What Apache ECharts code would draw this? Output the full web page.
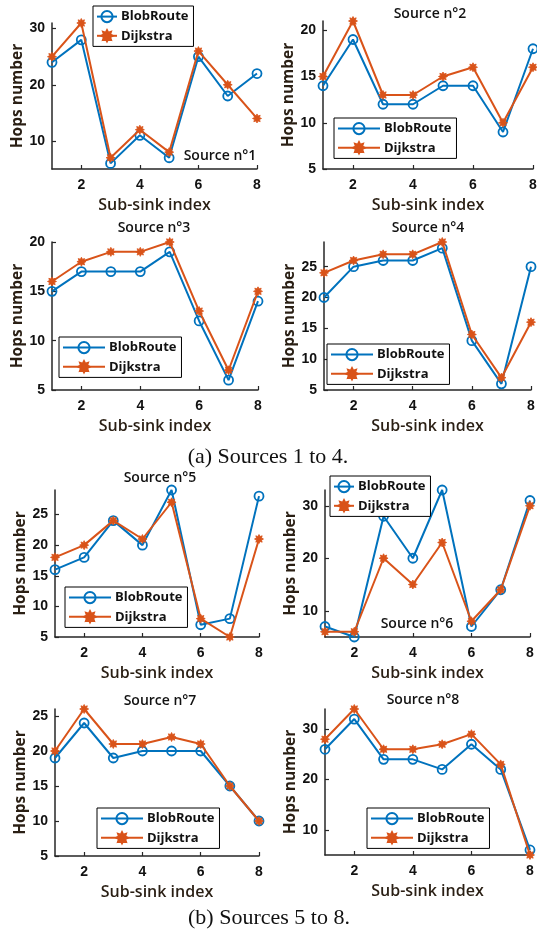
<!DOCTYPE html>
<html>
<head>
<meta charset="utf-8">
<script src="https://cdn.jsdelivr.net/npm/echarts@6/dist/echarts.min.js"></script>
<style>
html,body{margin:0;padding:0;background:#fff;}
#c{width:537px;height:935px;}
</style>
</head>
<body>
<div id="c"></div>
<script>
// ---- data ----
const subSinks = [1, 2, 3, 4, 5, 6, 7, 8];
const xTicks = [2, 4, 6, 8];
const seriesNames = ['BlobRoute', 'Dijkstra'];
const sourceTitles = ['Source n°1', 'Source n°2', 'Source n°3', 'Source n°4', 'Source n°5', 'Source n°6', 'Source n°7', 'Source n°8'];

const blob1 = [24, 28, 6, 11, 7, 25, 18, 22];
const dijk1 = [25, 31, 7, 12, 8, 26, 20, 14];
const blob2 = [14, 19, 12, 12, 14, 14, 9, 18];
const dijk2 = [15, 21, 13, 13, 15, 16, 10, 16];
const blob3 = [15, 17, 17, 17, 19, 12, 6, 14];
const dijk3 = [16, 18, 19, 19, 20, 13, 7, 15];
const blob4 = [20, 25, 26, 26, 28, 13, 6, 25];
const dijk4 = [24, 26, 27, 27, 29, 14, 7, 16];
const blob5 = [16, 18, 24, 20, 29, 7, 8, 28];
const dijk5 = [18, 20, 24, 21, 27, 8, 5, 21];
const blob6 = [7, 5, 28, 20, 33, 7, 14, 31];
const dijk6 = [6, 6, 20, 15, 23, 8, 14, 30];
const blob7 = [19, 24, 19, 20, 20, 20, 15, 10];
const dijk7 = [20, 26, 21, 21, 22, 21, 15, 10];
const blob8 = [26, 32, 24, 24, 22, 27, 22, 6];
const dijk8 = [28, 34, 26, 26, 27, 29, 23, 5];

const yTicks1 = [10, 20, 30];
const yTicks2 = [5, 10, 15, 20];
const yTicks3 = [5, 10, 15, 20];
const yTicks4 = [5, 10, 15, 20, 25];
const yTicks5 = [5, 10, 15, 20, 25];
const yTicks6 = [10, 20, 30];
const yTicks7 = [5, 10, 15, 20, 25];
const yTicks8 = [10, 20, 30];

const yMin = [5, 5, 5, 5, 5, 5, 5, 5];
const yMax = [31, 21, 20, 29, 29, 33, 26, 34];

const blobs = [blob1, blob2, blob3, blob4, blob5, blob6, blob7, blob8];
const dijks = [dijk1, dijk2, dijk3, dijk4, dijk5, dijk6, dijk7, dijk8];
const yTicksAll = [yTicks1, yTicks2, yTicks3, yTicks4, yTicks5, yTicks6, yTicks7, yTicks8];

// ---- layout / style ----
const BLUE = '#0072BD';
const ORANGE = '#D95319';
const AXIS = '#262626';
const NAMECOL = '#2a1f14';
const FONT = '"Open Sans", "Liberation Sans", sans-serif';
const TICKFONT = '"Liberation Sans", Arial, sans-serif';
const STAR = 'path://M20 10 L15.5 12.3 L17.07 17.07 L12.3 15.5 L10 20 L7.7 15.5 L2.93 17.07 L4.5 12.3 L0 10 L4.5 7.7 L2.93 2.93 L7.7 4.5 L10 0 L12.3 4.5 L17.07 2.93 L15.5 7.7 Z';

const grids = [
  {left: 52, top: 23, width: 205, height: 146},
  {left: 323, top: 21, width: 210, height: 148},
  {left: 52, top: 242, width: 206, height: 148},
  {left: 324, top: 242, width: 207, height: 148},
  {left: 55, top: 490, width: 204, height: 147},
  {left: 325, top: 490, width: 205, height: 147},
  {left: 55, top: 709, width: 204, height: 147},
  {left: 325, top: 709, width: 205, height: 146}
];
const titlePos = [[220, 156], [430, 14], [154, 228], [428, 228], [160, 478], [417, 624], [160, 701], [423, 700]];
const legendPos = [
  {left: 93, top: 6, w: 20},
  {left: 334, top: 118, w: 42},
  {left: 59, top: 337, w: 42},
  {left: 327, top: 344, w: 42},
  {left: 65, top: 587, w: 42},
  {left: 330, top: 476, w: 20},
  {left: 97, top: 808, w: 42},
  {left: 367, top: 808, w: 42}
];

const option = {
  backgroundColor: '#fff',
  animation: false,
  grid: [], xAxis: [], yAxis: [], series: [], legend: [],
  graphic: []
};

for (let i = 0; i < 8; i++) {
  const g = grids[i];
  option.grid.push({left: g.left, top: g.top, width: g.width, height: g.height, containLabel: false, outerBoundsMode: 'none'});
  option.xAxis.push({
    type: 'value', gridIndex: i, min: 1, max: 8,
    name: 'Sub-sink index', nameLocation: 'middle', nameGap: 28,
    nameTextStyle: {fontFamily: FONT, fontWeight: 600, fontSize: 16, color: NAMECOL},
    axisLine: {show: true, onZero: false, lineStyle: {color: AXIS, width: 1.5}},
    axisTick: {show: true, inside: true, length: 4, customValues: xTicks, lineStyle: {color: AXIS, width: 1.2}},
    axisLabel: {customValues: xTicks, margin: 9, fontFamily: TICKFONT, fontWeight: 'bold', fontSize: 14, color: '#111'},
    splitLine: {show: false}
  });
  option.yAxis.push({
    type: 'value', gridIndex: i, min: yMin[i], max: yMax[i],
    name: 'Hops number', nameLocation: 'middle', nameGap: 26, nameRotate: 90,
    nameTextStyle: {fontFamily: FONT, fontWeight: 700, fontSize: 15.5, color: NAMECOL},
    axisLine: {show: true, onZero: false, lineStyle: {color: AXIS, width: 1.5}},
    axisTick: {show: true, inside: true, length: 4, customValues: yTicksAll[i], lineStyle: {color: AXIS, width: 1.2}},
    axisLabel: {customValues: yTicksAll[i], margin: 7, fontFamily: TICKFONT, fontWeight: 'bold', fontSize: 14, color: '#111'},
    splitLine: {show: false}
  });
  option.series.push({
    name: seriesNames[0], type: 'line', xAxisIndex: i, yAxisIndex: i,
    data: subSinks.map((x, k) => [x, blobs[i][k]]),
    symbol: 'circle', symbolSize: 9,
    lineStyle: {color: BLUE, width: 2},
    itemStyle: {color: 'rgba(255,255,255,0)', borderColor: BLUE, borderWidth: 1.8},
    z: 2
  });
  option.series.push({
    name: seriesNames[1], type: 'line', xAxisIndex: i, yAxisIndex: i,
    data: subSinks.map((x, k) => [x, dijks[i][k]]),
    symbol: STAR, symbolSize: 9,
    lineStyle: {color: ORANGE, width: 2},
    itemStyle: {color: ORANGE, borderColor: ORANGE, borderWidth: 0.8},
    z: 3
  });
  const L = legendPos[i];
  option.legend.push({
    data: seriesNames, orient: 'vertical', left: L.left, top: L.top,
    itemWidth: L.w, itemHeight: 14, itemGap: 6,
    padding: [4, 5, 4, 3],
    backgroundColor: '#fff', borderColor: '#000', borderWidth: 1, borderRadius: 0,
    textStyle: {fontFamily: FONT, fontWeight: 700, fontSize: 13, color: '#111', padding: [0, 0, 0, -1]},
    selectedMode: false
  });
  option.graphic.push({
    type: 'text', x: titlePos[i][0], y: titlePos[i][1],
    style: {text: sourceTitles[i], font: '600 14px ' + FONT, fill: '#111', textAlign: 'center', textVerticalAlign: 'middle'},
    z: 100
  });
}
option.graphic.push({
  type: 'text', x: 268, y: 457,
  style: {text: '(a) Sources 1 to 4.', font: '22px "Liberation Serif", "Times New Roman", serif', fill: '#111', textAlign: 'center', textVerticalAlign: 'middle'}
});
option.graphic.push({
  type: 'text', x: 269, y: 918,
  style: {text: '(b) Sources 5 to 8.', font: '22px "Liberation Serif", "Times New Roman", serif', fill: '#111', textAlign: 'center', textVerticalAlign: 'middle'}
});

const chart = echarts.init(document.getElementById('c'), null, {renderer: 'canvas'});
chart.setOption(option);
</script>
</body>
</html>
